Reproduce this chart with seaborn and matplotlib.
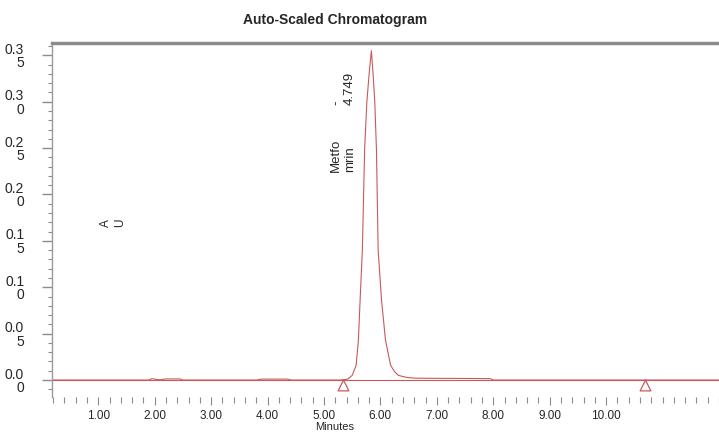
import numpy as np
import pandas as pd
import seaborn as sns
import matplotlib.pyplot as plt
from matplotlib.ticker import MultipleLocator, FixedLocator, FixedFormatter

# Chromatogram trace (minutes, AU)
time_min = [0.18, 1.90, 1.95, 2.05, 2.10, 2.20, 2.30, 2.45, 2.50, 3.80, 3.90, 4.35, 4.42,
            5.30, 5.42, 5.50, 5.57, 5.61, 5.64, 5.68, 5.72, 5.76, 5.80, 5.84, 5.87, 5.90,
            5.93, 5.96, 6.02, 6.09, 6.18, 6.25, 6.32, 6.45, 6.60, 7.00, 7.50, 7.95, 8.00, 12.0]
au = [0.0, 0.0, 0.0015, 0.0005, 0.0002, 0.0012, 0.0012, 0.0012, 0.0, 0.0, 0.001, 0.001, 0.0,
      0.0, 0.001, 0.005, 0.016, 0.043, 0.086, 0.14, 0.248, 0.30, 0.33, 0.355, 0.33, 0.30,
      0.248, 0.14, 0.086, 0.043, 0.016, 0.009, 0.005, 0.003, 0.002, 0.0018, 0.0017, 0.0015, 0.0, 0.0]

# peak integration markers
marker_x = [5.34, 10.68]
marker_y = [-0.0055, -0.0055]

x_ticks = [1, 2, 3, 4, 5, 6, 7, 8, 9, 10]
x_labels = ["1.00", "2.00", "3.00", "4.00", "5.00", "6.00", "7.00", "8.00", "9.00", "10.00"]
y_ticks = [0.0, 0.05, 0.10, 0.15, 0.20, 0.25, 0.30, 0.35]
y_labels = ["0.0\n0", "0.0\n5", "0.1\n0", "0.1\n5", "0.2\n0", "0.2\n5", "0.3\n0", "0.3\n5"]

peak_name = "Metfo\nmrin"
peak_rt = "-\n4.749"

sns.set_style("ticks")
plt.rcParams['font.family'] = ['Liberation Sans', 'DejaVu Sans']

red = "#c85a5a"
grey = "#8c8c8c"

df = pd.DataFrame({"t": time_min, "au": au})

fig = plt.figure(figsize=(7.19, 4.32), dpi=100)
ax = fig.add_axes([0.0723, 0.081, 0.9277, 0.820])

ax.axhline(0, color=red, lw=0.8, zorder=1)
sns.lineplot(data=df, x="t", y="au", sort=False, estimator=None, color=red, lw=0.8, ax=ax)
sns.scatterplot(x=marker_x, y=marker_y, marker="^", s=60, facecolor="white",
                edgecolor=red, linewidth=0.9, ax=ax, zorder=3)

ax.set_xlim(0.18, 12.0)
ax.set_ylim(-0.0183, 0.3635)

ax.xaxis.set_major_locator(FixedLocator(x_ticks))
ax.xaxis.set_major_formatter(FixedFormatter(x_labels))
ax.xaxis.set_minor_locator(MultipleLocator(0.2))
ax.yaxis.set_major_locator(FixedLocator(y_ticks))
ax.yaxis.set_major_formatter(FixedFormatter(y_labels))
ax.yaxis.set_minor_locator(MultipleLocator(0.01))

ax.tick_params(axis="x", which="major", length=6, width=0.8, color=grey, labelsize=8.5, pad=3)
ax.tick_params(axis="x", which="minor", length=4, width=0.8, color=grey)
ax.tick_params(axis="y", which="major", length=7, width=1.0, color=grey, labelsize=10, pad=13)
ax.tick_params(axis="y", which="minor", length=3, width=0.8, color=grey)
for lab in ax.get_yticklabels():
    lab.set_multialignment("right")
    lab.set_linespacing(0.95)

ax.spines["bottom"].set_visible(False)
ax.spines["right"].set_visible(False)
ax.spines["top"].set_color(grey)
ax.spines["top"].set_linewidth(2.5)
ax.spines["left"].set_color("#999999")
ax.spines["left"].set_linewidth(1.0)

ax.set_xlabel("")
ax.set_ylabel("")

ax.text(5.34, 0.224, peak_name, rotation=90, ha="center", va="bottom",
        multialignment="left", fontsize=9.5, linespacing=1.2)
ax.text(5.34, 0.296, peak_rt, rotation=90, ha="center", va="bottom",
        multialignment="left", fontsize=9.5, linespacing=1.2)

fig.text(113 / 719, 1 - 223 / 432, "A\nU", rotation=90, ha="center", va="center",
         fontsize=8.5, linespacing=1.3)
fig.text(335 / 719, 1 - 20 / 432, "Auto-Scaled Chromatogram", ha="center", va="center",
         fontsize=10, fontweight="bold")
fig.text(335 / 719, 1 - 427 / 432, "Minutes", ha="center", va="center", fontsize=8)

fig.savefig("out.png", dpi=100)
